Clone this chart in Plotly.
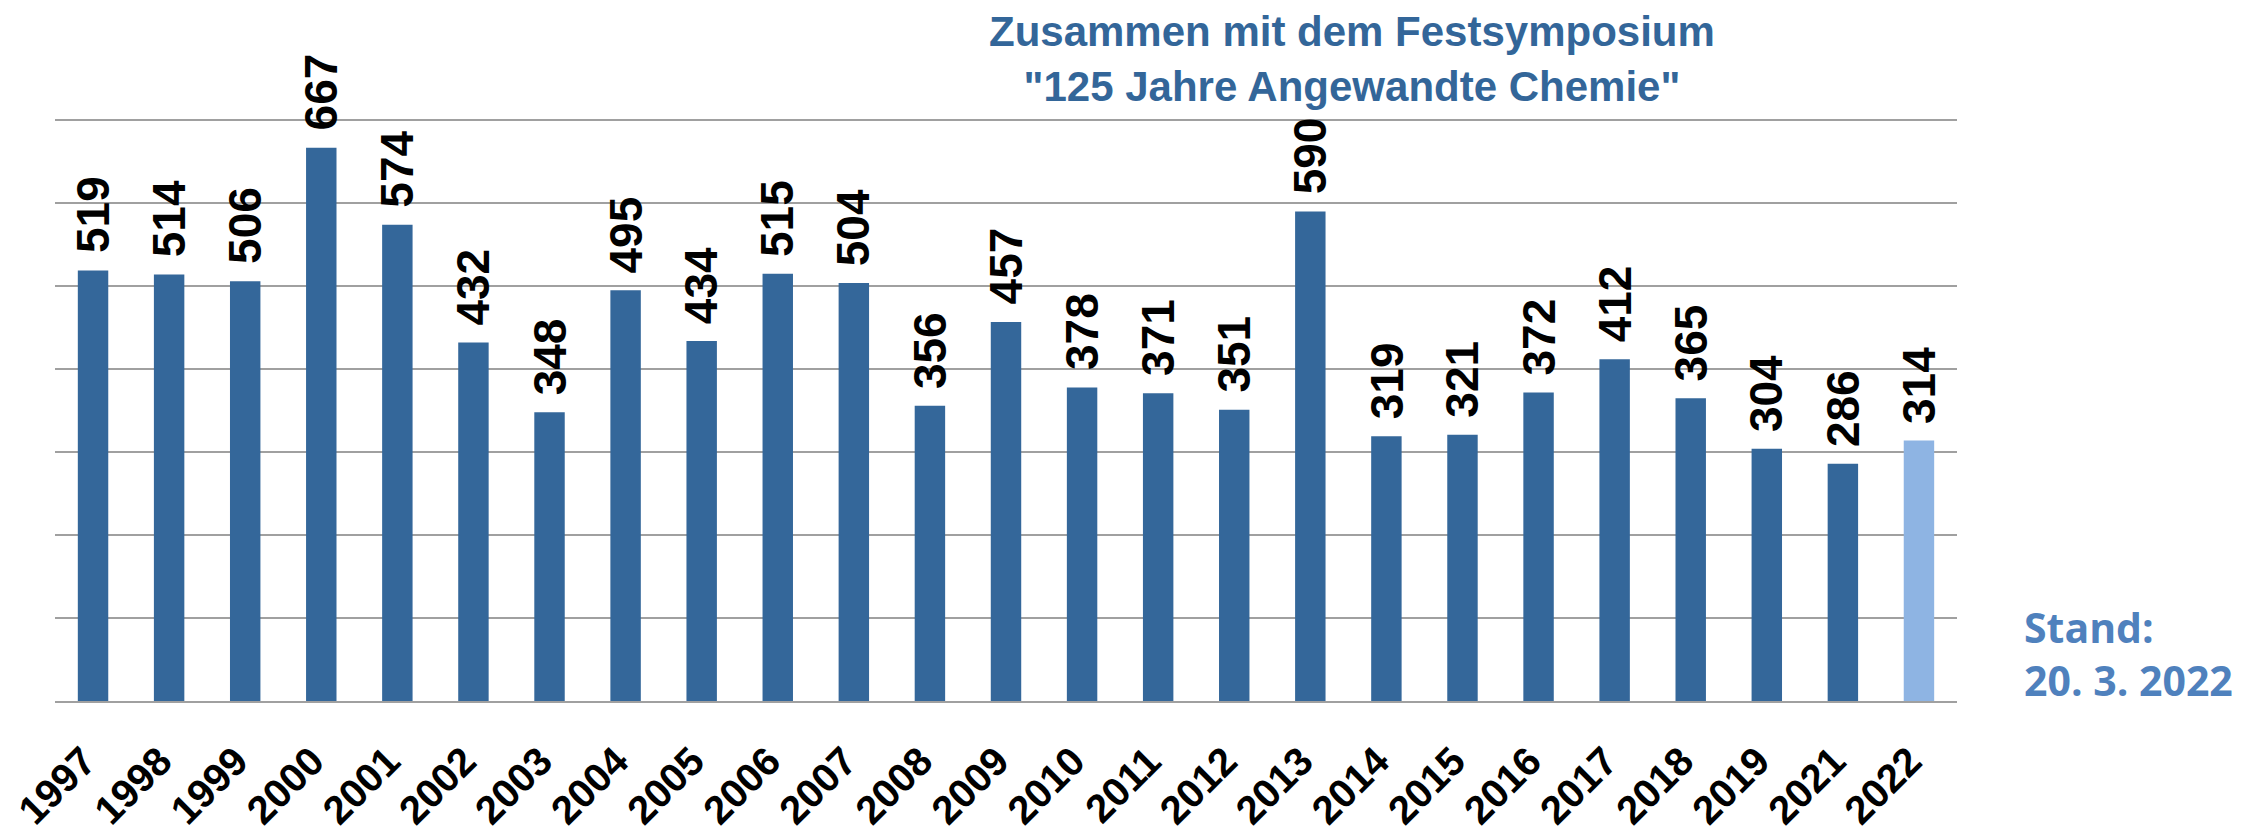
import plotly.graph_objects as go

years = ["1997", "1998", "1999", "2000", "2001", "2002", "2003", "2004", "2005",
         "2006", "2007", "2008", "2009", "2010", "2011", "2012", "2013", "2014",
         "2015", "2016", "2017", "2018", "2019", "2021", "2022"]
values = [519, 514, 506, 667, 574, 432, 348, 495, 434, 515, 504, 356, 457, 378,
          371, 351, 590, 319, 321, 372, 412, 365, 304, 286, 314]
title_lines = ["Zusammen mit dem Festsymposium", "\"125 Jahre Angewandte Chemie\""]
stand_lines = ["Stand:", "20. 3. 2022"]

DARK = "#34679A"
LIGHT = "#8EB4E3"
colors = [DARK] * (len(years) - 1) + [LIGHT]

fig = go.Figure()
fig.add_trace(go.Bar(
    x=years, y=values, marker=dict(color=colors, line=dict(width=0)),
    hoverinfo="skip",
))

annotations = []
for i, v in enumerate(values):
    annotations.append(dict(
        x=i, y=v, xref="x", yref="y", text=str(v), textangle=-90,
        showarrow=False, xanchor="center", yanchor="bottom", yshift=15,
        font=dict(family="Liberation Sans", size=46, color="black", weight="bold"),
    ))

annotations.append(dict(
    x=0.682, y=1.0908, xref="paper", yref="paper",
    text="<br>".join(title_lines), showarrow=False, align="center",
    xanchor="center", yanchor="middle",
    font=dict(family="Liberation Sans", size=42, color="#336699", weight="bold"),
))
annotations.append(dict(
    x=1.034, y=0.0803, xref="paper", yref="paper",
    text="<br>".join(stand_lines), showarrow=False, align="left",
    xanchor="left", yanchor="middle",
    font=dict(family="Open Sans", size=41, color="#4F81BD", weight="bold"),
))

fig.update_layout(
    width=2243, height=833, autosize=False,
    margin=dict(l=55, r=286, t=112, b=132),
    plot_bgcolor="white", paper_bgcolor="white",
    bargap=0.6, showlegend=False,
    annotations=annotations,
    xaxis=dict(
        type="category", tickangle=-45, ticks="", showgrid=False,
        range=[-0.5, len(years) - 0.5], automargin=False,
        showline=True, linecolor="#A0A0A0", linewidth=1.5,
        ticklabelstandoff=19, ticklabelshift=-9,
        tickfont=dict(family="Liberation Sans", size=40, color="black", weight="bold"),
    ),
    yaxis=dict(
        range=[0, 710], tick0=0, dtick=100, showticklabels=False, ticks="",
        automargin=False, showgrid=True, gridcolor="#A0A0A0", gridwidth=1.5,
        zeroline=False,
    ),
)

fig.write_html("out.html", config={"displayModeBar": False},
               post_script="document.body.style.margin='0';")
